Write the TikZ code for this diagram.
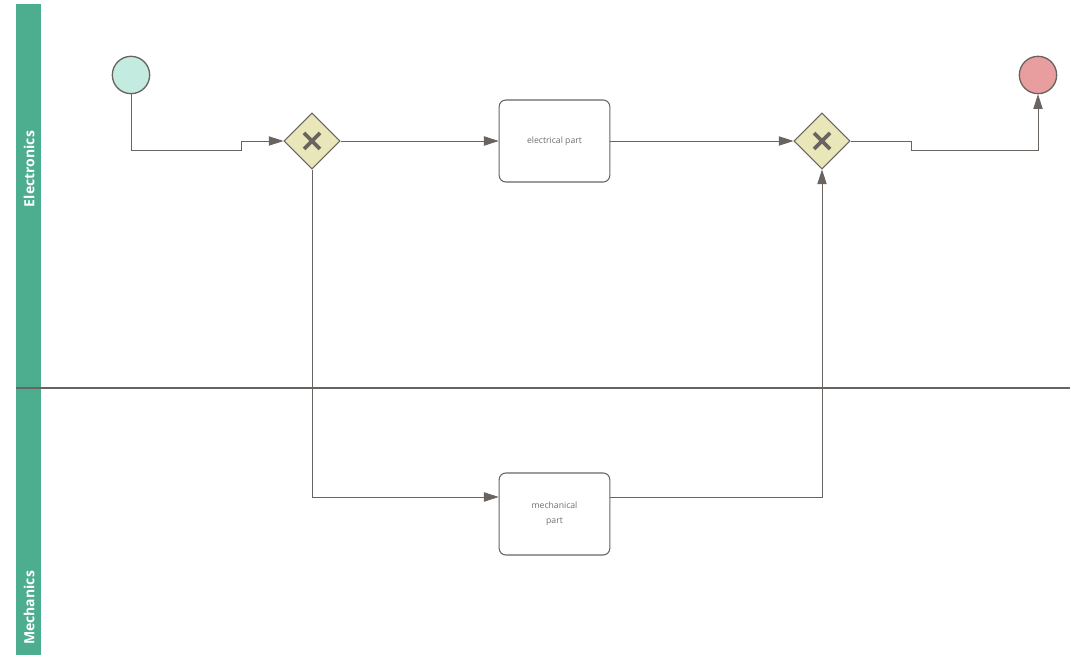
\documentclass[tikz,border=0pt]{standalone}
\usepackage{fontspec}
\setsansfont{Open Sans}
\usetikzlibrary{shapes.geometric,arrows.meta}
\definecolor{lanegreen}{RGB}{76,174,142}
\definecolor{linegray}{RGB}{106,100,96}
\definecolor{startfill}{RGB}{196,235,223}
\definecolor{endfill}{RGB}{232,158,158}
\definecolor{gatefill}{RGB}{233,230,186}
\definecolor{textgray}{RGB}{110,110,110}
\begin{document}
\begin{tikzpicture}[x=0.75pt,y=-0.75pt]
\tikzstyle{every node}+=[inner sep=0pt]
\tikzstyle{flow}=[draw=linegray,line width=0.6pt,-{Triangle[length=11pt,width=7pt]}]
\tikzstyle{task}=[draw=linegray,line width=0.8pt,fill=white,rounded corners=5pt,minimum width=83pt,minimum height=61.5pt,align=center,font=\sffamily\fontsize{6.5}{11}\selectfont,text=textgray]
\tikzstyle{gate}=[diamond,draw=linegray,line width=0.8pt,fill=gatefill,minimum size=42pt]
\tikzstyle{event}=[circle,draw=linegray,line width=1pt,minimum size=28pt]
\tikzstyle{lane}=[rotate=90,text=white,font=\sffamily\bfseries\fontsize{10.5}{12}\selectfont]
\useasboundingbox (0,0) rectangle (1079,655);
% lanes
\fill [lanegreen] (16,4) rectangle (41,655);
\draw [linegray,line width=1.2pt] (16,388) -- (1070,388);
\node [lane] (elec) at (29,169) {Electronics};
\node [lane] (mech) at (29,608) {Mechanics};
% nodes
\node [event,fill=startfill] (start) at (131,75) {};
\node [event,fill=endfill] (end) at (1038,75) {};
\node [gate] (split) at (312,141) {};
\node [gate] (join) at (822,141) {};
\foreach \g in {split,join}
  \draw [linegray,line width=2.8pt] ([shift={(-8,-8)}]\g.center) -- ([shift={(8,8)}]\g.center)
    ([shift={(-8,8)}]\g.center) -- ([shift={(8,-8)}]\g.center);
\node [task] (elecpart) at (554.5,141) {electrical part};
\node [task] (mechpart) at (554.5,514) {mechanical\\part};
% flows
\draw [flow] (start.south) -- (131,150) -- (241,150) -- (241,141) -- (split.west);
\draw [flow] (split.east) -- (elecpart.west);
\draw [flow] (elecpart.east) -- (join.west);
\draw [flow] (join.east) -- (911,141) -- (911,150) -- (1038,150) -- (end.south);
\draw [flow] (split.south) -- (312,497) -- (mechpart.west |- 0,497);
\draw [flow] (mechpart.east |- 0,497) -- (822,497) -- (join.south);
\end{tikzpicture}
\end{document}
